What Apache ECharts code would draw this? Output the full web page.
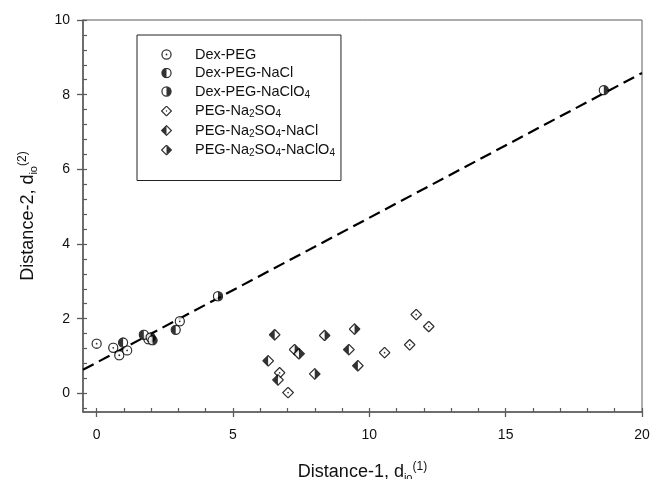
<!DOCTYPE html>
<html>
<head>
<meta charset="utf-8">
<script src="https://cdn.jsdelivr.net/npm/echarts@6/dist/echarts.min.js"></script>
<style>html,body{margin:0;padding:0;background:#fff}#c{width:652px;height:479px}</style>
</head>
<body>
<div id="c"></div>
<script>
// ---- data ----
const dexPEG_x = [0.0, 0.61, 0.83, 1.12, 1.90, 3.05];
const dexPEG_y = [1.33, 1.22, 1.02, 1.15, 1.45, 1.93];
const dexNaCl_x = [0.97, 1.73, 2.90];
const dexNaCl_y = [1.36, 1.57, 1.70];
const dexNaClO4_x = [1.98, 2.05, 4.45, 18.6];
const dexNaClO4_y = [1.50, 1.42, 2.60, 8.12];
const pegNa2SO4_x = [6.71, 7.02, 10.56, 11.48, 11.72, 12.18];
const pegNa2SO4_y = [0.55, 0.02, 1.09, 1.30, 2.11, 1.79];
const pegNaCl_x = [6.53, 6.29, 6.65, 9.25, 9.58];
const pegNaCl_y = [1.57, 0.87, 0.36, 1.17, 0.74];
const pegNaClO4_x = [7.26, 7.42, 8.00, 8.36, 9.46];
const pegNaClO4_y = [1.17, 1.06, 0.52, 1.55, 1.72];
const fitLine_x = [-0.5, 20];
const fitLine_y = [0.63, 8.58];

const seriesNames = ['Dex-PEG', 'Dex-PEG-NaCl', 'Dex-PEG-NaClO4', 'PEG-Na2SO4', 'PEG-Na2SO4-NaCl', 'PEG-Na2SO4-NaClO4'];
const legendLabels = ['Dex-PEG', 'Dex-PEG-NaCl', 'Dex-PEG-NaClO{sub|4}', 'PEG-Na{sub|2}SO{sub|4}', 'PEG-Na{sub|2}SO{sub|4}-NaCl', 'PEG-Na{sub|2}SO{sub|4}-NaClO{sub|4}'];

const xMajorTicks = [0, 5, 10, 15, 20];
const xMinorTicks = [0,1,2,3,4,5,6,7,8,9,10,11,12,13,14,15,16,17,18,19,20];
const yMajorTicks = [0, 2, 4, 6, 8, 10];
const yMinorTicks = [-0.4,0,0.4,0.8,1.2,1.6,2,2.4,2.8,3.2,3.6,4,4.4,4.8,5.2,5.6,6,6.4,6.8,7.2,7.6,8,8.4,8.8,9.2,9.6,10];

// ---- symbols ----
function svgUri(inner) {
  const s = "<svg xmlns='http://www.w3.org/2000/svg' width='40' height='40' viewBox='0 0 20 20'>" + inner + "</svg>";
  return 'image://data:image/svg+xml;charset=utf-8,' + encodeURIComponent(s);
}
const circ = "<circle cx='10' cy='10' r='8.3' fill='white' stroke='black' stroke-width='2.3'/>";
const dia = "<polygon points='10,1.2 18.8,10 10,18.8 1.2,10' fill='white' stroke='black' stroke-width='2.1' stroke-linejoin='miter'/>";
const symbols = [
  svgUri(circ + "<circle cx='10' cy='10' r='1.6' fill='black'/>"),
  svgUri(circ + "<path d='M10 1.7 A8.3 8.3 0 0 0 10 18.3 Z' fill='black'/>"),
  svgUri(circ + "<path d='M10 1.7 A8.3 8.3 0 0 1 10 18.3 Z' fill='black'/>"),
  svgUri(dia + "<circle cx='10' cy='10' r='1.4' fill='black'/>"),
  svgUri(dia + "<polygon points='10,1.2 1.2,10 10,18.8' fill='black'/>"),
  svgUri(dia + "<polygon points='10,1.2 18.8,10 10,18.8' fill='black'/>")
];
const seriesX = [dexPEG_x, dexNaCl_x, dexNaClO4_x, pegNa2SO4_x, pegNaCl_x, pegNaClO4_x];
const seriesY = [dexPEG_y, dexNaCl_y, dexNaClO4_y, pegNa2SO4_y, pegNaCl_y, pegNaClO4_y];

const chart = echarts.init(document.getElementById('c'), null, {renderer: 'canvas'});
const FONT = 'Liberation Sans, Arial, sans-serif';
const axisColor = '#5a5a5a';

const scatterSeries = seriesNames.map((n, i) => ({
  name: n,
  type: 'scatter',
  xAxisIndex: 0, yAxisIndex: 0,
  symbol: symbols[i],
  symbolSize: i < 3 ? 11 : 12,
  data: seriesX[i].map((x, k) => [x, seriesY[i][k]]),
  z: 5
}));

const subRich = {
  sub: {fontSize: 10, fontFamily: FONT, color: '#111', padding: [7, 0, 0, 0]}
};
const nameRich = {
  sub: {fontSize: 11, fontFamily: FONT, color: '#111', padding: [10, 0, 0, 0]},
  sup: {fontSize: 12, fontFamily: FONT, color: '#111', padding: [0, 0, 11, 0]}
};

const option = {
  animation: false,
  backgroundColor: '#fff',
  grid: {left: 83, top: 20, right: 10, bottom: 67, show: true, borderColor: axisColor, borderWidth: 1, containLabel: false, outerBoundsMode: 'none'},
  legend: {
    data: seriesNames,
    orient: 'vertical',
    left: 137, top: 35,
    padding: [12, 6, 22, 24],
    itemGap: 3.5,
    itemWidth: 11, itemHeight: 11,
    borderColor: '#222', borderWidth: 1,
    formatter: function (name) { return legendLabels[seriesNames.indexOf(name)]; },
    textStyle: {fontFamily: FONT, fontSize: 14.5, color: '#111', padding: [0, 0, 0, 18], rich: subRich}
  },
  xAxis: [{
    type: 'value', min: -0.5, max: 20,
    axisLine: {show: true, onZero: false, lineStyle: {color: axisColor, width: 1.5}},
    axisTick: {show: true, inside: false, length: 5, customValues: xMajorTicks, lineStyle: {color: axisColor, width: 1.3}},
    axisLabel: {customValues: xMajorTicks, margin: 16, fontFamily: FONT, fontSize: 14, color: '#111'},
    splitLine: {show: false},
    name: 'Distance-1, d{sub|io}{sup|(1)}',
    nameLocation: 'middle', nameGap: 49,
    nameTextStyle: {fontFamily: FONT, fontSize: 18, color: '#111', rich: nameRich}
  }, {
    type: 'value', min: -0.5, max: 20, position: 'bottom',
    axisLine: {show: false, onZero: false},
    axisTick: {show: true, inside: true, length: 4, customValues: xMinorTicks, lineStyle: {color: axisColor, width: 1.2}},
    axisLabel: {show: false},
    splitLine: {show: false}
  }],
  yAxis: [{
    type: 'value', min: -0.5, max: 10,
    axisLine: {show: true, onZero: false, lineStyle: {color: axisColor, width: 1.5}},
    axisTick: {show: true, inside: false, length: 6, customValues: yMajorTicks, lineStyle: {color: axisColor, width: 1.3}},
    axisLabel: {customValues: yMajorTicks, margin: 13, fontFamily: FONT, fontSize: 14, color: '#111'},
    splitLine: {show: false},
    name: 'Distance-2, d{sub|io}{sup|(2)}',
    nameLocation: 'middle', nameGap: 43, nameRotate: 90,
    nameTextStyle: {fontFamily: FONT, fontSize: 18, color: '#111', rich: nameRich}
  }, {
    type: 'value', min: -0.5, max: 10, position: 'left',
    axisLine: {show: false, onZero: false},
    axisTick: {show: true, inside: true, length: 4, customValues: yMinorTicks, lineStyle: {color: axisColor, width: 1.2}},
    axisLabel: {show: false},
    splitLine: {show: false}
  }],
  series: [{
    name: 'fit', type: 'line', xAxisIndex: 0, yAxisIndex: 0,
    data: fitLine_x.map((x, i) => [x, fitLine_y[i]]),
    symbol: 'none', silent: true,
    lineStyle: {color: '#000', width: 2.2, type: [12, 6]},
    z: 2
  }].concat(scatterSeries)
};
chart.setOption(option);
</script>
</body>
</html>
